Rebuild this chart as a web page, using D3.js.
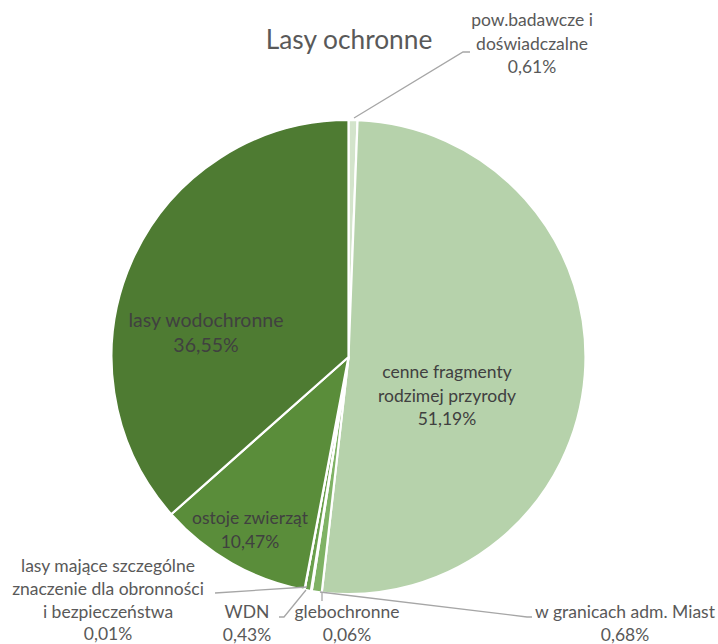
<!DOCTYPE html>
<html><head><meta charset="utf-8">
<script src="https://cdn.jsdelivr.net/npm/d3@7"></script>
<style>body{margin:0;background:#fff}svg{display:block}</style>
</head><body>
<svg id="c" width="718" height="644"></svg>
<script>
const categories = ["pow.badawcze i doświadczalne","cenne fragmenty rodzimej przyrody","w granicach adm. Miast","glebochronne","WDN","lasy mające szczególne znaczenie dla obronności i bezpieczeństwa","ostoje zwierząt","lasy wodochronne"];
const values = [0.61, 51.19, 0.68, 0.06, 0.43, 0.01, 10.47, 36.55];
const valueLabels = ["0,61%","51,19%","0,68%","0,06%","0,43%","0,01%","10,47%","36,55%"];
const labelLines = [["pow.badawcze i","doświadczalne"],["cenne fragmenty","rodzimej przyrody"],["w granicach adm. Miast"],["glebochronne"],["WDN"],["lasy mające szczególne","znaczenie dla obronności","i bezpieczeństwa"],["ostoje zwierząt"],["lasy wodochronne"]];
const colors = ["#d3e4cb","#b6d2ab","#7fb265","#9cc688","#6a9f4c","#5f9440","#5a8d3a","#4e7b32"];

const cx = 348.5, cy = 357, R = 237;
const layout = [
  {x:532, y:26, fs:17.5, inside:false, leader:[[354,118],[463,52],[470,52]]},
  {x:447, y:378, fs:17.5, inside:true},
  {x:625, y:618, fs:17.5, lh:22.5, inside:false, leader:[[320,592],[527,617],[532,617]]},
  {x:347, y:618, fs:17.5, lh:22.5, inside:false, leader:[[322,592],[322,601]]},
  {x:247, y:618, fs:17.5, lh:22.5, inside:false, leader:[[306,590],[284,617],[279,617]]},
  {x:108, y:572, fs:17.5, lh:22.8, inside:false, leader:[[307,587],[215,593]]},
  {x:250, y:524, fs:17.5, inside:true},
  {x:206, y:327, fs:19.5, lh:25, inside:true}
];

const svg = d3.select("#c");
const pie = d3.pie().sort(null).value(d=>d)(values);
const arc = d3.arc().innerRadius(0).outerRadius(R);
const g = svg.append("g").attr("transform",`translate(${cx},${cy})`);
g.selectAll("path").data(pie).join("path")
  .attr("d",arc).attr("fill",(d,i)=>colors[i])
  .attr("stroke","#fff").attr("stroke-width",2.2).attr("stroke-linejoin","round");

svg.append("text").attr("x",349).attr("y",49).attr("text-anchor","middle")
  .attr("font-family","Lato, 'Open Sans', sans-serif").attr("font-size",26.3)
  .attr("fill","#595959").text("Lasy ochronne");

const line = d3.line();
layout.forEach((L,i)=>{
  if(L.leader){
    svg.append("path").attr("d",line(L.leader)).attr("fill","none")
      .attr("stroke","#a6a6a6").attr("stroke-width",1.3);
  }
  const lines = labelLines[i].concat([valueLabels[i]]);
  const lh = L.lh || 23.5;
  const t = svg.append("text").attr("text-anchor","middle")
    .attr("font-family","Lato, 'Open Sans', sans-serif").attr("font-size",L.fs)
    .attr("fill", L.inside ? "#404040" : "#595959");
  lines.forEach((s,k)=>{
    t.append("tspan").attr("x",L.x).attr("y",L.y+k*lh).text(s);
  });
});
</script>
</body></html>
